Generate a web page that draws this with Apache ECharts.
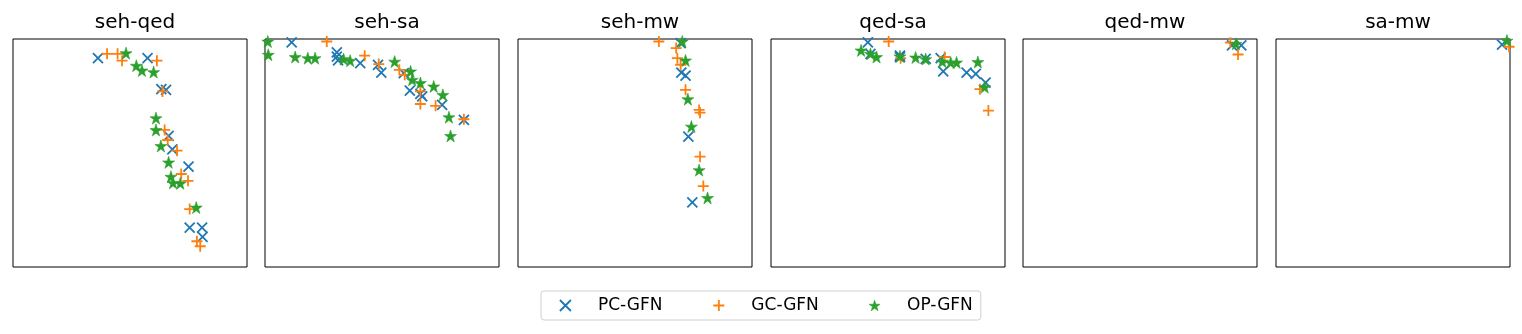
<!DOCTYPE html>
<html>
<head>
<meta charset="utf-8">
<script src="https://cdn.jsdelivr.net/npm/echarts@6/dist/echarts.min.js"></script>
<style>
  html, body { margin: 0; padding: 0; background: #fff; }
  #chart { width: 1522px; height: 334px; }
</style>
</head>
<body>
<div id="chart"></div>
<script>
var panels = ['seh-qed', 'seh-sa', 'seh-mw', 'qed-sa', 'qed-mw', 'sa-mw'];
var methods = ['PC-GFN', 'GC-GFN', 'OP-GFN'];

// points as [x, y] in each panel's 0-100 axis range
var pcSehQed = [[36.3, 91.6], [57.5, 91.6], [63.4, 78.0], [65.4, 77.7], [66.5, 57.5], [68.1, 51.6], [75.0, 44.0], [75.5, 17.3], [80.8, 17.3], [81.0, 13.2]];
var gcSehQed = [[40.2, 93.5], [44.7, 93.5], [46.6, 90.5], [61.5, 90.5], [63.9, 77.0], [64.8, 60.1], [66.1, 55.7], [70.1, 51.0], [71.9, 40.8], [74.8, 37.8], [75.5, 25.4], [78.6, 11.3], [80.0, 9.1]];
var opSehQed = [[48.3, 93.8], [52.7, 88.3], [55.1, 86.2], [60.1, 85.5], [61.1, 65.3], [61.1, 60.1], [63.2, 53.1], [66.5, 45.9], [67.5, 39.6], [68.4, 36.9], [71.5, 36.7], [78.3, 26.1]];

var pcSehSa = [[11.4, 98.5], [30.7, 94.1], [30.7, 92.3], [31.2, 90.6], [40.7, 89.4], [48.3, 88.7], [49.7, 85.3], [59.3, 85.0], [61.9, 77.4], [66.4, 75.9], [67.2, 74.8], [75.7, 71.1], [85.0, 64.5]];
var gcSehSa = [[26.4, 98.9], [42.6, 92.7], [48.6, 89.0], [57.4, 86.5], [59.7, 84.3], [66.4, 77.0], [66.4, 71.5], [72.9, 70.7], [85.0, 64.8]];
var opSehSa = [[1.2, 98.9], [1.4, 93.1], [12.9, 92.1], [18.3, 91.6], [21.4, 91.6], [33.6, 91.2], [36.4, 90.5], [55.4, 90.1], [62.2, 85.8], [62.9, 82.1], [66.4, 80.7], [72.1, 79.2], [76.0, 75.5], [78.6, 65.7], [79.3, 57.5]];

var pcSehMw = [[69.5, 98.2], [69.8, 85.3], [71.6, 83.9], [72.8, 57.2], [74.5, 28.3]];
var gcSehMw = [[60.2, 98.9], [67.6, 96.0], [68.1, 91.6], [69.5, 88.7], [71.6, 77.7], [77.4, 68.9], [77.8, 67.7], [77.8, 48.4], [79.2, 35.5]];
var opSehMw = [[70.2, 98.9], [71.6, 90.6], [72.6, 73.6], [74.1, 61.6], [77.4, 42.5], [81.0, 30.3]];

var pcQedSa = [[41.4, 98.5], [42.5, 93.5], [55.1, 92.7], [55.1, 92.1], [66.1, 91.3], [72.5, 91.6], [73.6, 85.8], [83.6, 85.3], [87.5, 84.7], [91.7, 80.9]];
var gcQedSa = [[50.3, 98.9], [55.4, 91.6], [74.2, 92.1], [89.3, 78.0], [92.9, 68.6]];
var opQedSa = [[38.5, 95.0], [42.5, 93.5], [45.1, 92.1], [55.1, 92.4], [61.8, 91.9], [66.1, 91.2], [73.2, 90.1], [76.8, 89.7], [79.3, 89.7], [88.4, 89.9], [91.3, 78.9]];

var pcQedMw = [[93.3, 97.2], [89.3, 97.2]];
var gcQedMw = [[88.6, 98.4], [91.9, 93.2]];
var opQedMw = [[91.0, 97.9]];

var pcSaMw = [[96.6, 97.5]];
var gcSaMw = [[99.6, 96.6]];
var opSaMw = [[98.7, 99.3]];

var pcData = [pcSehQed, pcSehSa, pcSehMw, pcQedSa, pcQedMw, pcSaMw];
var gcData = [gcSehQed, gcSehSa, gcSehMw, gcQedSa, gcQedMw, gcSaMw];
var opData = [opSehQed, opSehSa, opSehMw, opQedSa, opQedMw, opSaMw];

var colors = ['#1f77b4', '#ff7f0e', '#2ca02c'];
var symbols = [
  'path://M0,0L10,10M10,0L0,10',
  'path://M5,0L5,10M0,5L10,5',
  'path://M50,0L61.2,34.5L97.6,34.5L68.2,55.9L79.4,90.5L50,69.1L20.6,90.5L31.8,55.9L2.4,34.5L38.8,34.5Z'
];
var sizes = [10, 11, 12];
var strokes = [1.8, 1.8, 0.6];

var font = 'DejaVu Sans';
var lefts = [13, 265, 518, 771, 1023, 1276];
var panelW = 234;

var chart = echarts.init(document.getElementById('chart'), null, { renderer: 'canvas' });

var grids = [], xAxes = [], yAxes = [], titles = [], series = [];
lefts.forEach(function(l, i) {
  grids.push({ left: l, top: 39, width: panelW, height: 228, show: true, borderColor: '#000', borderWidth: 1, backgroundColor: 'transparent' });
  xAxes.push({ type: 'value', gridIndex: i, min: 0, max: 100, show: false });
  yAxes.push({ type: 'value', gridIndex: i, min: 0, max: 100, show: false });
  titles.push({
    text: panels[i], left: l + panelW / 2, top: 8, textAlign: 'center',
    textStyle: { fontFamily: font, fontSize: 20, fontWeight: 'normal', color: '#000' }
  });
  [pcData, gcData, opData].forEach(function(d, j) {
    series.push({
      name: methods[j],
      type: 'scatter',
      xAxisIndex: i,
      yAxisIndex: i,
      data: d[i],
      symbol: symbols[j],
      symbolSize: sizes[j],
      itemStyle: { color: colors[j], borderColor: colors[j], borderWidth: strokes[j], opacity: 1 },
      emphasis: { disabled: true },
      clip: true
    });
  });
});

chart.setOption({
  animation: false,
  title: titles,
  grid: grids,
  xAxis: xAxes,
  yAxis: yAxes,
  legend: {
    data: methods.map(function(m, j) {
      return { name: m, itemStyle: { borderWidth: strokes[j] } };
    }),
    left: 541,
    top: 291,
    orient: 'horizontal',
    itemWidth: 11,
    itemHeight: 11,
    itemGap: 50,
    padding: [6, 8, 6, 18],
    borderColor: '#d0d0d0',
    borderWidth: 1,
    borderRadius: 3,
    textStyle: { fontFamily: font, fontSize: 17, color: '#000', padding: [0, 0, 0, 22] }
  },
  series: series
});
window.addEventListener('resize', function() { chart.resize(); });
</script>
</body>
</html>
